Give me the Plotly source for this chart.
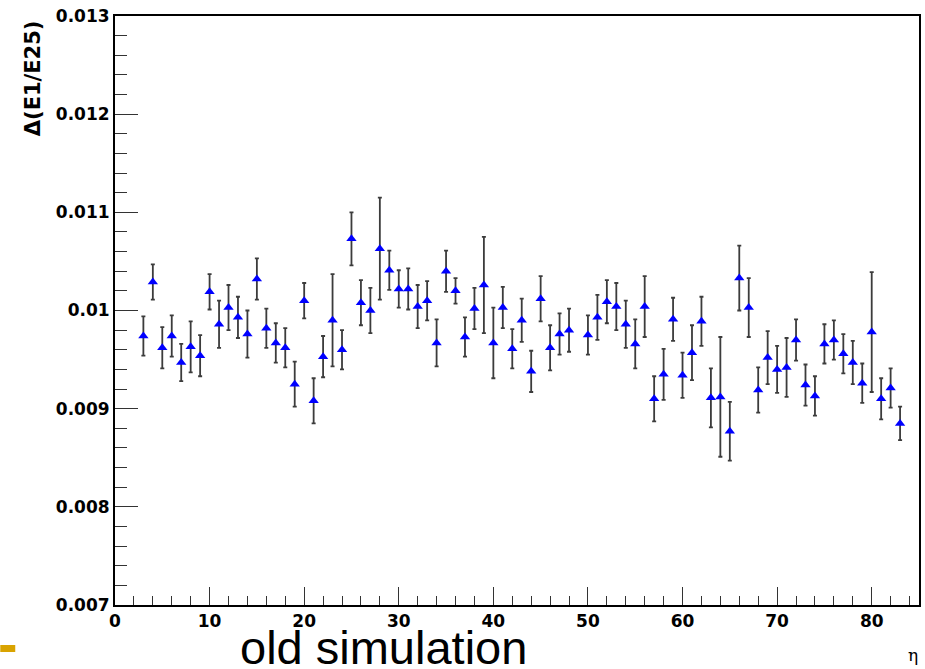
import plotly.graph_objects as go

eta = [3, 4, 5, 6, 7, 8, 9, 10, 11, 12, 13, 14, 15, 16, 17, 18, 19, 20, 21, 22,
       23, 24, 25, 26, 27, 28, 29, 30, 31, 32, 33, 34, 35, 36, 37, 38, 39, 40,
       41, 42, 43, 44, 45, 46, 47, 48, 50, 51, 52, 53, 54, 55, 56, 57, 58, 59,
       60, 61, 62, 63, 64, 65, 66, 67, 68, 69, 70, 71, 72, 73, 74, 75, 76, 77,
       78, 79, 80, 81, 82, 83]
values = [0.00974, 0.01029, 0.00962, 0.00974, 0.00947, 0.00963, 0.00954, 0.01019,
          0.00986, 0.01003, 0.00993, 0.00976, 0.01032, 0.00982, 0.00967, 0.00962,
          0.00925, 0.01010, 0.00908, 0.00953, 0.00990, 0.00960, 0.01073, 0.01008,
          0.01000, 0.01063, 0.01041, 0.01022, 0.01022, 0.01004, 0.01010, 0.00967,
          0.01040, 0.01020, 0.00973, 0.01002, 0.01026, 0.00967, 0.01003, 0.00961,
          0.00990, 0.00938, 0.01012, 0.00962, 0.00976, 0.00980, 0.00975, 0.00993,
          0.01009, 0.01004, 0.00986, 0.00966, 0.01004, 0.00910, 0.00935, 0.00991,
          0.00934, 0.00957, 0.00989, 0.00911, 0.00912, 0.00877, 0.01033, 0.01003,
          0.00919, 0.00952, 0.00940, 0.00942, 0.00970, 0.00924, 0.00913, 0.00966,
          0.00970, 0.00956, 0.00947, 0.00926, 0.00978, 0.00910, 0.00921, 0.00885]
errors = [0.00020, 0.00018, 0.00021, 0.00021, 0.00019, 0.00026, 0.00021, 0.00018,
          0.00024, 0.00023, 0.00021, 0.00024, 0.00021, 0.00020, 0.00020, 0.00020,
          0.00023, 0.00018, 0.00023, 0.00021, 0.00047, 0.00020, 0.00027, 0.00023,
          0.00023, 0.00052, 0.00020, 0.00019, 0.00021, 0.00022, 0.00020, 0.00024,
          0.00021, 0.00013, 0.00020, 0.00021, 0.00049, 0.00036, 0.00021, 0.00020,
          0.00022, 0.00021, 0.00023, 0.00023, 0.00021, 0.00022, 0.00020, 0.00023,
          0.00022, 0.00024, 0.00024, 0.00025, 0.00031, 0.00023, 0.00026, 0.00022,
          0.00023, 0.00028, 0.00025, 0.00030, 0.00061, 0.00030, 0.00033, 0.00030,
          0.00023, 0.00027, 0.00024, 0.00030, 0.00021, 0.00021, 0.00020, 0.00020,
          0.00020, 0.00020, 0.00022, 0.00020, 0.00061, 0.00021, 0.00020, 0.00017]

y_tickvals = [0.007, 0.008, 0.009, 0.010, 0.011, 0.012, 0.013]
y_ticktext = ["0.007", "0.008", "0.009", "0.01", "0.011", "0.012", "0.013"]
x_tickvals = [0, 10, 20, 30, 40, 50, 60, 70, 80]
x_ticktext = ["0", "10", "20", "30", "40", "50", "60", "70", "80"]

y_title = "\u0394(E1/E25)"
x_title = "\u03b7"
caption = "old simulation"

W, H = 925, 669
ML, MR, MT, MB = 115, 4, 16, 64
PW, PH = W - ML - MR, H - MT - MB


def px(x):
    return (x - ML) / PW


def py(y):
    return (H - MB - y) / PH


fig = go.Figure()
fig.add_trace(go.Scatter(
    x=eta, y=values, mode="markers",
    marker=dict(symbol="triangle-up", size=9, color="#0000ff", line=dict(width=0)),
    error_y=dict(type="data", array=errors, visible=True, color="#3c3c3c",
                 thickness=1.8, width=2),
    showlegend=False,
))

tickfont = dict(family="DejaVu Sans", size=17, color="black", weight="bold")
fig.update_xaxes(
    range=[0, 85], tickvals=x_tickvals, ticktext=x_ticktext, ticks="inside",
    ticklen=18, tickwidth=1, tickcolor="#333",
    minor=dict(dtick=2, tick0=0, ticks="inside", ticklen=9, tickcolor="#333"),
    showline=True, linecolor="black", linewidth=2, mirror=True,
    showgrid=False, zeroline=False, tickfont=tickfont,
)
fig.update_yaxes(
    range=[0.007, 0.013], tickvals=y_tickvals, ticktext=y_ticktext, ticks="inside",
    ticklen=23, tickwidth=1, tickcolor="#333",
    minor=dict(dtick=0.0002, tick0=0.007, ticks="inside", ticklen=12, tickcolor="#333"),
    showline=True, linecolor="black", linewidth=2, mirror=True,
    showgrid=False, zeroline=False, tickfont=tickfont,
)

fig.add_annotation(text=y_title, xref="paper", yref="paper", x=px(33), y=py(18),
                   xanchor="center", yanchor="top", textangle=-90, showarrow=False,
                   font=dict(family="DejaVu Sans", size=21, color="black", weight="bold"))
fig.add_annotation(text=x_title, xref="paper", yref="paper", x=px(922), y=py(655),
                   xanchor="right", yanchor="middle", showarrow=False,
                   font=dict(family="DejaVu Serif", size=17, color="black"))
fig.add_annotation(text=caption, xref="paper", yref="paper", x=px(384), y=py(647),
                   xanchor="center", yanchor="middle", showarrow=False,
                   font=dict(family="Liberation Sans", size=47, color="black"))
fig.add_shape(type="rect", xref="paper", yref="paper", x0=px(0), x1=px(15),
              y0=py(645), y1=py(652), fillcolor="#D9A300", line=dict(width=0))

fig.update_layout(
    width=W, height=H, margin=dict(l=ML, r=MR, t=MT, b=MB),
    plot_bgcolor="white", paper_bgcolor="white",
)
fig.write_html("out.html")
